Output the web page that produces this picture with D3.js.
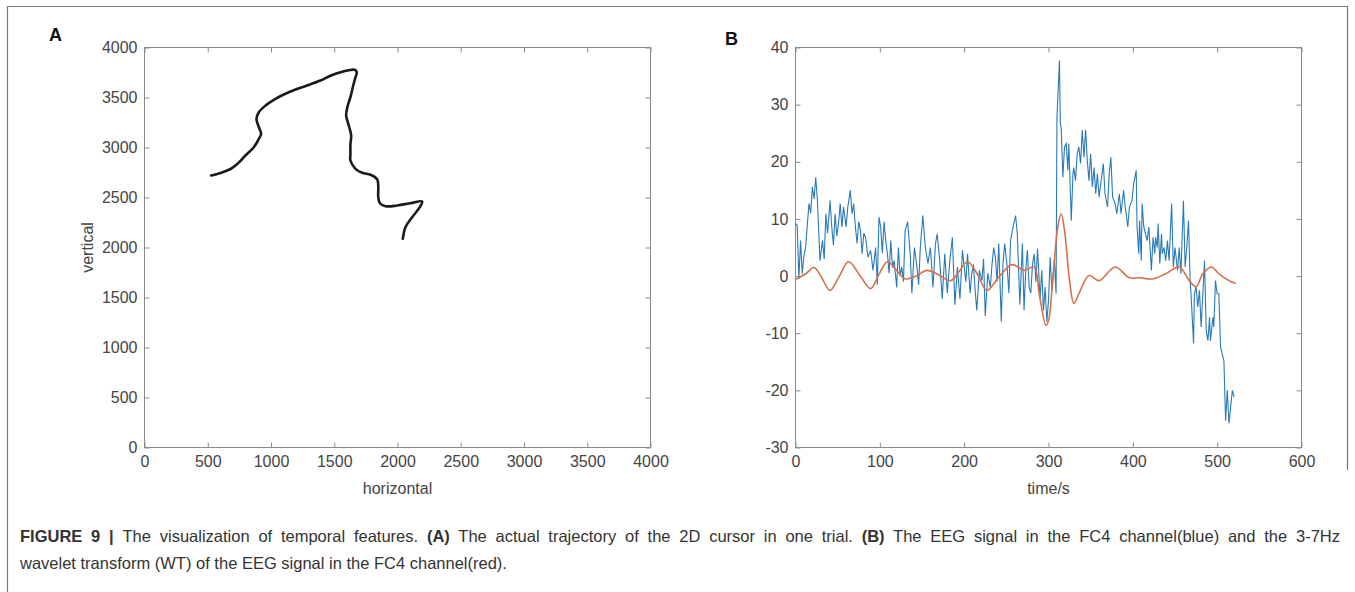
<!DOCTYPE html>
<html>
<head>
<meta charset="utf-8">
<script src="https://cdn.jsdelivr.net/npm/d3@7"></script>
<style>
  body { margin: 0; background: #fff; }
  svg text { font-family: "Liberation Sans", Arial, sans-serif; }
</style>
</head>
<body>
<div id="chart"></div>
<script>
// panel A: cursor trajectory (horizontal, vertical)
var trajX = [527, 600, 680, 733, 798, 864, 904, 922, 904, 885, 904, 957, 1022, 1101, 1194, 1286, 1391, 1470, 1549, 1615, 1662, 1678, 1668, 1650, 1628, 1607, 1594, 1615, 1634, 1628, 1628, 1628, 1668, 1721, 1787, 1840, 1848, 1848, 1861, 1905, 1997, 2103, 2195, 2176, 2116, 2063, 2042];
var trajY = [2720, 2745, 2785, 2835, 2920, 3003, 3087, 3137, 3203, 3287, 3353, 3420, 3477, 3530, 3580, 3620, 3670, 3717, 3753, 3773, 3777, 3753, 3703, 3620, 3503, 3420, 3320, 3220, 3120, 3037, 2937, 2870, 2787, 2747, 2727, 2680, 2603, 2503, 2443, 2413, 2420, 2443, 2460, 2403, 2303, 2203, 2087];

// panel B: EEG signal FC4 (blue)
var eegT = [0, 2, 4, 6, 8, 10, 12, 14, 16, 18, 20, 22, 24, 26, 29, 32, 34, 36, 38, 41, 43, 45, 47, 49, 51, 53, 55, 57, 60, 62, 65, 67, 69, 71, 73, 75, 77, 79, 81, 83, 86, 89, 92, 95, 97, 99, 101, 103, 105, 107, 109, 111, 113, 115, 117, 120, 122, 124, 126, 128, 130, 133, 136, 138, 141, 144, 146, 148, 151, 154, 157, 160, 163, 166, 168, 171, 174, 177, 180, 183, 186, 189, 192, 195, 198, 200, 202, 204, 207, 209, 211, 213, 215, 218, 221, 223, 225, 228, 231, 233, 235, 237, 239, 241, 244, 246, 248, 251, 253, 255, 258, 261, 263, 266, 269, 271, 273, 275, 277, 279, 281, 283, 285, 287, 290, 292, 294, 296, 298, 300, 302, 304, 307, 309, 310, 313, 314, 315, 317, 319, 321, 323, 324, 325, 327, 329, 330, 332, 334, 336, 338, 340, 342, 344, 346, 348, 350, 352, 354, 356, 358, 360, 362, 365, 367, 370, 372, 374, 376, 379, 381, 384, 386, 389, 391, 394, 396, 399, 401, 404, 405, 407, 408, 410, 411, 413, 415, 417, 419, 422, 424, 426, 427, 429, 430, 432, 434, 435, 437, 439, 441, 443, 446, 448, 450, 453, 455, 457, 460, 462, 464, 466, 468, 469, 472, 473, 475, 477, 479, 481, 483, 485, 487, 489, 491, 492, 495, 496, 498, 500, 502, 504, 506, 508, 510, 512, 514, 516, 518, 520, 522];
var eegV = [9.2, 8.9, -0.5, 6.2, 0.4, 3.5, 5.0, 9.0, 12.7, 11.0, 15.6, 13.5, 17.3, 13.2, 2.7, 6.2, 3.0, 10.9, 7.5, 13.2, 8.6, 5.4, 10.9, 7.0, 9.2, 12.7, 8.6, 12.1, 8.6, 12.1, 15.0, 10.9, 12.7, 8.6, 5.7, 9.5, 8.0, 3.9, 7.5, 6.8, 3.3, 4.5, 1.0, 5.0, -1.5, 10.3, 8.6, 4.0, 9.5, 6.2, 3.9, 0.5, 6.2, 1.5, 2.7, -2.0, 5.0, 0.0, 1.6, -1.0, 8.0, 9.5, 3.9, -3.0, 5.0, 1.6, -1.5, 5.0, 10.6, 5.0, 2.2, 5.0, -2.0, 5.7, 7.4, 2.7, -4.0, 3.9, -3.0, 2.7, 6.8, -5.0, 1.6, -4.0, 4.5, 1.6, -1.0, 3.9, -3.0, 0.4, 2.0, -2.5, -6.0, 1.0, -0.8, 3.0, -7.0, 0.5, -2.0, 2.0, 5.0, 3.3, -1.0, 5.7, -8.0, 2.0, 5.7, 1.6, -3.0, 6.2, 8.6, 10.6, 7.4, -5.0, 5.7, -6.0, 1.0, 4.5, -2.0, -3.0, 2.0, 3.9, -1.0, 4.8, -4.0, 1.0, -6.0, -1.9, -8.0, -4.3, 3.3, -2.5, 2.7, -3.1, 27.8, 37.7, 26.7, 26.0, 17.3, 22.6, 23.2, 18.5, 23.2, 19.0, 9.7, 17.9, 19.0, 16.7, 21.4, 22.6, 19.7, 25.5, 20.8, 25.6, 20.2, 16.7, 21.4, 15.6, 19.0, 14.4, 17.9, 13.8, 16.2, 19.7, 14.4, 12.1, 17.9, 20.8, 13.8, 12.7, 10.9, 14.4, 10.9, 15.0, 12.1, 8.6, 12.1, 13.2, 16.2, 18.5, 8.6, 3.9, 9.7, 2.7, 12.7, 8.6, 7.4, 6.2, 8.6, 1.0, 6.8, 3.9, 6.8, 5.0, 9.2, 2.2, 7.4, 3.9, 5.0, 2.7, 6.2, 2.7, 12.7, 1.6, 5.0, 1.0, 5.0, 0.4, 13.2, 1.6, 5.0, 9.7, -0.8, -3.1, -11.8, -3.1, -1.9, -5.4, -2.5, -8.9, -3.1, 2.7, -9.5, -11.3, -7.2, -11.3, -7.2, -8.9, -0.8, -3.1, -3.1, -12.4, -13.6, -14.8, -25.3, -20.0, -25.8, -22.9, -20.0, -21.2];

// panel B: 3-7Hz wavelet transform (red), read at its turning points
var wtT = [0, 12, 22, 30, 41, 52, 63, 76, 89, 99, 109, 120, 130, 143, 156, 170, 184, 194, 204, 215, 227, 242, 257, 271, 283, 289, 297, 300, 305, 311, 315, 319, 325, 330, 336, 348, 360, 379, 396, 408, 423, 439, 455, 467, 475, 483, 493, 502, 514, 522];
var wtV = [-0.6, 0.4, 1.5, 0.0, -2.5, 0.0, 2.5, 0.2, -2.2, 0.3, 2.5, 1.0, -0.5, 0.0, 1.0, 0.2, -0.8, 0.8, 2.5, 0.5, -2.5, 0.0, 2.0, 1.0, 1.6, -3.1, -8.6, -7.8, -0.8, 8.6, 10.9, 8.0, -0.8, -4.8, -3.1, 0.1, -0.8, 1.6, -0.3, -0.3, -0.5, 0.4, 1.6, -0.8, -1.9, 0.4, 1.6, 0.4, -0.8, -1.3];

var ticksA = [0, 500, 1000, 1500, 2000, 2500, 3000, 3500, 4000];
var ticksBX = [0, 100, 200, 300, 400, 500, 600];
var ticksBY = [-30, -20, -10, 0, 10, 20, 30, 40];

var canvasWidth = 1355;
var canvasHeight = 592;

var svg = d3.select("#chart").append("svg")
    .attr("width", canvasWidth)
    .attr("height", canvasHeight)

var axisColor = "#8a8a8a";
var labelColor = "#444";

// figure frame
svg.append("path")
    .attr("d", "M7.5,592 L7.5,6.5 L1347.5,6.5 L1347.5,470")
    .attr("fill", "none")
    .attr("stroke", "#777")
    .attr("stroke-width", 1.2)

function drawBox(g, x, y, xTicks, yTicks) {
    var w = x.range()[1] - x.range()[0];
    var h = y.range()[0] - y.range()[1];
    var plain = function(d) { return String(d); };

    var xb = g.append("g")
        .attr("transform", "translate(0," + h + ")")
        .call(d3.axisBottom(x).tickValues(xTicks).tickFormat(plain).tickSizeInner(-5).tickSizeOuter(0).tickPadding(8));
    var xt = g.append("g")
        .call(d3.axisTop(x).tickValues(xTicks).tickSizeInner(-5).tickSizeOuter(0).tickFormat(""));
    var yl = g.append("g")
        .call(d3.axisLeft(y).tickValues(yTicks).tickFormat(plain).tickSizeInner(-5).tickSizeOuter(0).tickPadding(7));
    var yr = g.append("g")
        .attr("transform", "translate(" + w + ",0)")
        .call(d3.axisRight(y).tickValues(yTicks).tickSizeInner(-5).tickSizeOuter(0).tickFormat(""));

    [xb, xt, yl, yr].forEach(function(a) {
        a.select(".domain").remove();
        a.selectAll(".tick line").attr("stroke", axisColor);
        a.selectAll("text")
            .attr("fill", labelColor)
            .attr("font-size", "16px")
            .attr("font-family", "Liberation Sans, Arial, sans-serif");
    });

    g.append("rect")
        .attr("width", w)
        .attr("height", h)
        .attr("fill", "none")
        .attr("stroke", axisColor)
        .attr("stroke-width", 1)
}

// ---- panel A ----
var gA = svg.append("g").attr("transform", "translate(144.5,47.5)");
var xA = d3.scaleLinear().domain([0, 4000]).range([0, 506]);
var yA = d3.scaleLinear().domain([0, 4000]).range([400, 0]);

drawBox(gA, xA, yA, ticksA, ticksA);

var traj = trajX.map(function(d, i) { return {x: d, y: trajY[i]}; });
gA.append("path")
    .datum(traj)
    .attr("fill", "none")
    .attr("stroke", "#1a1a1a")
    .attr("stroke-width", 2.6)
    .attr("stroke-linejoin", "round")
    .attr("stroke-linecap", "round")
    .attr("d", d3.line()
        .x(function(d) { return xA(d.x) })
        .y(function(d) { return yA(d.y) })
        .curve(d3.curveCatmullRom))

gA.append("text")
    .attr("x", 253)
    .attr("y", 446)
    .attr("text-anchor", "middle")
    .attr("font-size", "16px")
    .attr("fill", labelColor)
    .text("horizontal")

gA.append("text")
    .attr("transform", "translate(-52,200) rotate(-90)")
    .attr("text-anchor", "middle")
    .attr("font-size", "16px")
    .attr("fill", labelColor)
    .text("vertical")

svg.append("text")
    .attr("x", 49)
    .attr("y", 41)
    .attr("font-size", "18px")
    .attr("font-weight", "bold")
    .attr("fill", "#111")
    .text("A")

// ---- panel B ----
var gB = svg.append("g").attr("transform", "translate(795.5,47.5)");
var xB = d3.scaleLinear().domain([0, 600]).range([0, 506]);
var yB = d3.scaleLinear().domain([-30, 40]).range([400, 0]);

drawBox(gB, xB, yB, ticksBX, ticksBY);

var eeg = eegT.map(function(d, i) { return {t: d, v: eegV[i]}; });
var wt = wtT.map(function(d, i) { return {t: d, v: wtV[i]}; });

gB.append("path")
    .datum(eeg)
    .attr("fill", "none")
    .attr("stroke", "#2a7ab8")
    .attr("stroke-width", 1.1)
    .attr("d", d3.line()
        .x(function(d) { return xB(d.t) })
        .y(function(d) { return yB(d.v) }))

gB.append("path")
    .datum(wt)
    .attr("fill", "none")
    .attr("stroke", "#d4714b")
    .attr("stroke-width", 1.6)
    .attr("d", d3.line()
        .x(function(d) { return xB(d.t) })
        .y(function(d) { return yB(d.v) })
        .curve(d3.curveCatmullRom))

gB.append("text")
    .attr("x", 253)
    .attr("y", 446)
    .attr("text-anchor", "middle")
    .attr("font-size", "16px")
    .attr("fill", labelColor)
    .text("time/s")

svg.append("text")
    .attr("x", 725)
    .attr("y", 45)
    .attr("font-size", "18px")
    .attr("font-weight", "bold")
    .attr("fill", "#111")
    .text("B")

// ---- caption ----
var cap = svg.append("g")
    .attr("font-family", "Liberation Sans, Arial, sans-serif")
    .attr("font-size", "16.5px")
    .attr("fill", "#333");

var line1 = cap.append("text").attr("x", 20).attr("y", 542);
line1.append("tspan").attr("font-weight", "bold").text("FIGURE 9 | ");
line1.append("tspan").text("The visualization of temporal features. ");
line1.append("tspan").attr("font-weight", "bold").text("(A)");
line1.append("tspan").text(" The actual trajectory of the 2D cursor in one trial. ");
line1.append("tspan").attr("font-weight", "bold").text("(B)");
line1.append("tspan").text(" The EEG signal in the FC4 channel(blue) and the 3-7Hz");

// justify the first line by widening the gaps between words
var natural = line1.node().getComputedTextLength();
var gaps = line1.text().split(" ").length - 1;
line1.style("word-spacing", ((1320 - natural) / gaps) + "px");

cap.append("text")
    .attr("x", 20)
    .attr("y", 569)
    .text("wavelet transform (WT) of the EEG signal in the FC4 channel(red).")
</script>
</body>
</html>
